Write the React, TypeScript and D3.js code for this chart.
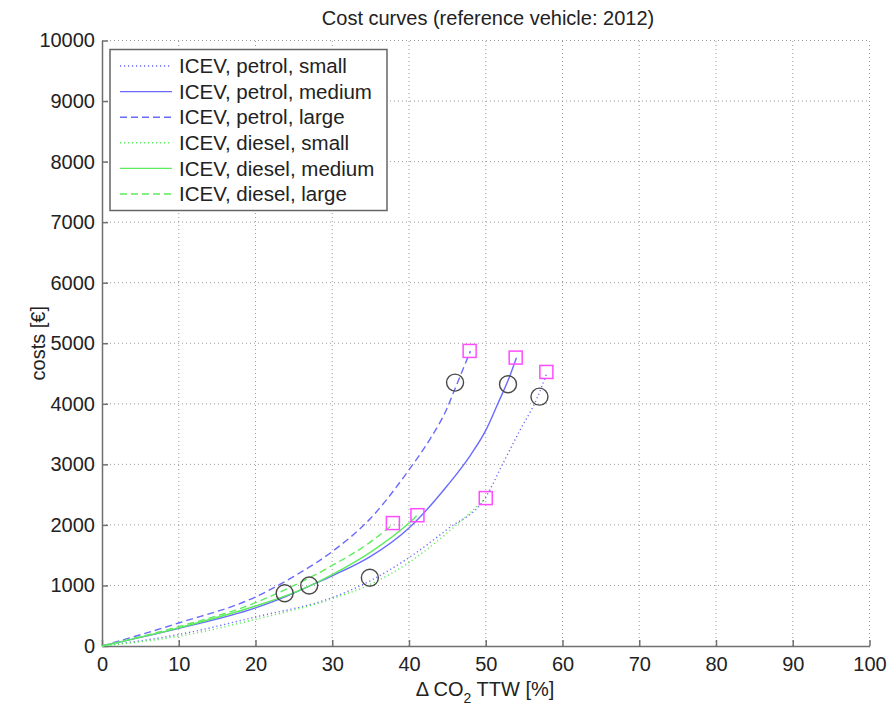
import React, { useEffect, useRef } from "react";
import * as d3 from "d3";

const W = 895;
const H = 707;

const xTicks = [0, 10, 20, 30, 40, 50, 60, 70, 80, 90, 100];
const yTicks = [0, 1000, 2000, 3000, 4000, 5000, 6000, 7000, 8000, 9000, 10000];

// curves
const petrolSmallX = [0, 10, 20, 30, 35, 40, 45, 50, 52.3, 54.4, 56.6, 58];
const petrolSmallY = [0, 190, 480, 800, 1080, 1460, 1930, 2460, 3030, 3550, 4070, 4520];
const petrolMediumX = [0, 10, 20, 24, 27, 30, 35, 40, 45, 48, 50, 51.6, 53.2, 54];
const petrolMediumY = [0, 290, 630, 820, 990, 1160, 1480, 1950, 2650, 3150, 3560, 4010, 4480, 4760];
const petrolLargeX = [0, 10, 20, 25, 30, 35, 40, 42.7, 44.9, 46, 48];
const petrolLargeY = [0, 380, 810, 1150, 1560, 2110, 2910, 3410, 3910, 4250, 4870];
const dieselSmallX = [0, 10, 20, 30, 35, 40, 45, 50];
const dieselSmallY = [0, 160, 440, 780, 1020, 1380, 1870, 2440];
const dieselMediumX = [0, 10, 20, 25, 30, 35, 40, 41];
const dieselMediumY = [0, 300, 660, 880, 1180, 1550, 2030, 2150];
const dieselLargeX = [0, 10, 20, 23, 30, 35, 38];
const dieselLargeY = [0, 320, 715, 880, 1330, 1720, 2020];

const circleX = [23.8, 27, 34.9, 46, 52.9, 57];
const circleY = [871, 1000, 1127, 4350, 4322, 4118];
const squareX = [37.9, 41.1, 50, 47.9, 53.9, 57.9];
const squareY = [2030, 2160, 2443, 4873, 4763, 4526];

const seriesNames = [
  "ICEV, petrol, small",
  "ICEV, petrol, medium",
  "ICEV, petrol, large",
  "ICEV, diesel, small",
  "ICEV, diesel, medium",
  "ICEV, diesel, large",
];

const BLUE = "#6a6aff";
const GREEN = "#5cec5c";

const series = [
  { name: seriesNames[0], xs: petrolSmallX, ys: petrolSmallY, color: BLUE, dash: "1.2,2.8" },
  { name: seriesNames[1], xs: petrolMediumX, ys: petrolMediumY, color: BLUE, dash: null },
  { name: seriesNames[2], xs: petrolLargeX, ys: petrolLargeY, color: BLUE, dash: "7,4" },
  { name: seriesNames[3], xs: dieselSmallX, ys: dieselSmallY, color: GREEN, dash: "1.2,2.8" },
  { name: seriesNames[4], xs: dieselMediumX, ys: dieselMediumY, color: GREEN, dash: null },
  { name: seriesNames[5], xs: dieselLargeX, ys: dieselLargeY, color: GREEN, dash: "7,4" },
];

const FONT = "'Liberation Sans', Arial, sans-serif";

export default function App() {
  const svgRef = useRef<SVGSVGElement>(null);

  useEffect(() => {
    const svg = d3.select(svgRef.current);
    svg.selectAll("*").remove();

    const x = d3.scaleLinear().domain([0, 100]).range([102, 869.5]);
    const y = d3.scaleLinear().domain([0, 10000]).range([646, 40.5]);

    svg.append("rect").attr("width", W).attr("height", H).attr("fill", "#fff");

    // grid
    const grid = svg.append("g").attr("stroke", "#9a9a9a").attr("stroke-width", 1).attr("stroke-dasharray", "1,3");
    xTicks.slice(1).forEach((t) => {
      grid.append("line").attr("x1", x(t)).attr("x2", x(t)).attr("y1", y(0)).attr("y2", y(10000));
    });
    yTicks.slice(1).forEach((t) => {
      grid.append("line").attr("x1", x(0)).attr("x2", x(100)).attr("y1", y(t)).attr("y2", y(t));
    });

    // axes
    const xAxis = d3.axisBottom(x).tickValues(xTicks).tickFormat(d3.format("d")).tickSizeInner(-6).tickSizeOuter(0).tickPadding(10.5);
    const yAxis = d3.axisLeft(y).tickValues(yTicks).tickFormat(d3.format("d")).tickSizeInner(-6).tickSizeOuter(0).tickPadding(7);

    const gx = svg.append("g").attr("transform", `translate(0,${y(0)})`).call(xAxis);
    const gy = svg.append("g").attr("transform", `translate(${x(0)},0)`).call(yAxis);
    [gx, gy].forEach((g) => {
      g.select(".domain").attr("stroke", "#707070").attr("stroke-width", 1.5);
      g.selectAll(".tick line").attr("stroke", "#707070").attr("stroke-width", 1.5);
      g.selectAll(".tick text")
        .attr("fill", "#222")
        .style("font-family", FONT)
        .style("font-size", "20px");
    });

    // curves
    const line = d3
      .line<[number, number]>()
      .x((d) => x(d[0]))
      .y((d) => y(d[1]))
      .curve(d3.curveMonotoneX);

    series.forEach((s) => {
      const pts = s.xs.map((v, i) => [v, s.ys[i]] as [number, number]);
      svg
        .append("path")
        .attr("d", line(pts))
        .attr("fill", "none")
        .attr("stroke", s.color)
        .attr("stroke-width", 1.4)
        .attr("stroke-dasharray", s.dash);
    });

    // markers
    circleX.forEach((cx, i) => {
      svg
        .append("circle")
        .attr("cx", x(cx))
        .attr("cy", y(circleY[i]))
        .attr("r", 8.5)
        .attr("fill", "none")
        .attr("stroke", "#4a4a4a")
        .attr("stroke-width", 1.4);
    });
    squareX.forEach((sx, i) => {
      svg
        .append("rect")
        .attr("x", x(sx) - 6.5)
        .attr("y", y(squareY[i]) - 6.5)
        .attr("width", 13)
        .attr("height", 13)
        .attr("fill", "none")
        .attr("stroke", "#ff4cff")
        .attr("stroke-width", 1.5);
    });

    // legend
    const lg = svg.append("g");
    lg.append("rect")
      .attr("x", 110)
      .attr("y", 49.5)
      .attr("width", 277)
      .attr("height", 161)
      .attr("fill", "#fff")
      .attr("stroke", "#666")
      .attr("stroke-width", 1.5);
    series.forEach((s, i) => {
      const ly = 66 + i * 25.6;
      lg.append("line")
        .attr("x1", 120)
        .attr("x2", 172)
        .attr("y1", ly)
        .attr("y2", ly)
        .attr("stroke", s.color)
        .attr("stroke-width", 1.4)
        .attr("stroke-dasharray", s.dash);
      lg.append("text")
        .attr("x", 179)
        .attr("y", ly)
        .attr("dy", "0.35em")
        .attr("fill", "#222")
        .style("font-family", FONT)
        .style("font-size", "20.5px")
        .text(s.name);
    });

    // title and labels
    svg
      .append("text")
      .attr("x", 488)
      .attr("y", 25)
      .attr("text-anchor", "middle")
      .attr("fill", "#222")
      .style("font-family", FONT)
      .style("font-size", "20px")
      .text("Cost curves (reference vehicle: 2012)");

    const xl = svg
      .append("text")
      .attr("x", 485)
      .attr("y", 696)
      .attr("text-anchor", "middle")
      .attr("fill", "#222")
      .style("font-family", FONT)
      .style("font-size", "20px");
    xl.append("tspan").text("Δ CO");
    xl.append("tspan").attr("dy", 7).style("font-size", "14px").text("2");
    xl.append("tspan").attr("dy", -7).text(" TTW [%]");

    svg
      .append("text")
      .attr("transform", `translate(45,${y(5000)}) rotate(-90)`)
      .attr("text-anchor", "middle")
      .attr("fill", "#222")
      .style("font-family", FONT)
      .style("font-size", "20px")
      .text("costs [€]");
  }, []);

  return (
    <div style={{ position: "absolute", left: 0, top: 0 }}>
      <svg ref={svgRef} width={W} height={H} style={{ display: "block" }} />
    </div>
  );
}
